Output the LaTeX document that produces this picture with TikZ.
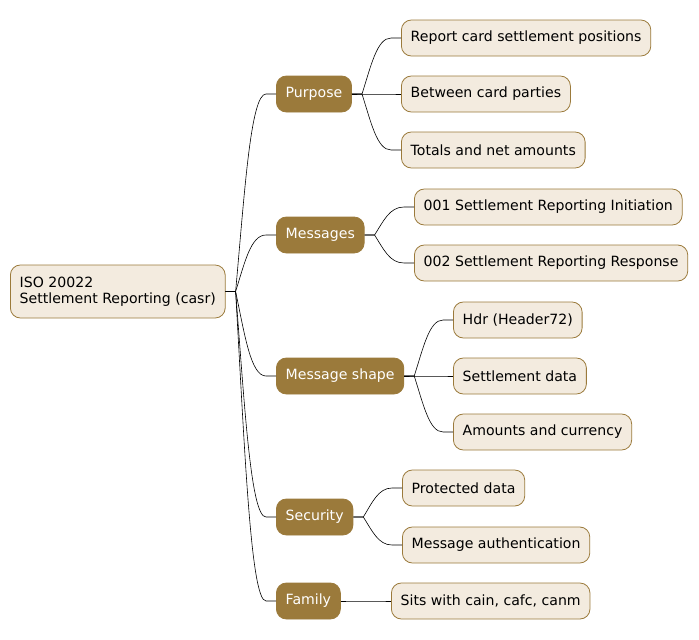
\documentclass[tikz,border=0pt]{standalone}
\usepackage{fontspec}
\setmainfont{DejaVu Sans}
\usetikzlibrary{calc}
\definecolor{mapdark}{HTML}{9B7A3B}
\definecolor{mapfill}{HTML}{F3EBDF}
\newcommand{\branch}[2]{\draw[link] let \p1=(#1.east), \p2=(#2.west) in (\p1) -- ++(10pt,0) .. controls (\x1+19pt,{0.5*\y1+0.5*\y2}) and (\x1+25pt,\y2) .. (\x2-10pt,\y2) -- (\p2);}
\begin{document}
\begin{tikzpicture}[x=1pt,y=-1pt,
  leaf/.style={draw=mapdark,fill=mapfill,rounded corners=10pt,line width=0.8pt,minimum height=36pt,inner xsep=9.3pt,anchor=west,font=\fontsize{14.1}{16.5}\selectfont,text=black},
  topic/.style={leaf,fill=mapdark,text=white},
  link/.style={black,line width=0.6pt}]
\useasboundingbox (0,0) rectangle (699,640);
\node[leaf,align=left,minimum height=53pt] (root) at (10,291.5) {ISO 20022\\Settlement Reporting (casr)};
\node[topic] (purp) at (276,94) {Purpose};
\node[topic] (msgs) at (276,235) {Messages};
\node[topic] (shape) at (276,376) {Message shape};
\node[topic] (sec) at (276,517) {Security};
\node[topic] (fam) at (276,601) {Family};
\node[leaf] (p1) at (401,38) {Report card settlement positions};
\node[leaf] (p2) at (401,94) {Between card parties};
\node[leaf] (p3) at (401,150) {Totals and net amounts};
\node[leaf] (m1) at (414,207) {001 Settlement Reporting Initiation};
\node[leaf] (m2) at (414,263) {002 Settlement Reporting Response};
\node[leaf] (s1) at (453,320) {Hdr (Header72)};
\node[leaf] (s2) at (453,376) {Settlement data};
\node[leaf] (s3) at (453,432) {Amounts and currency};
\node[leaf] (c1) at (402,488) {Protected data};
\node[leaf] (c2) at (402,545) {Message authentication};
\node[leaf] (f1) at (391,601) {Sits with cain, cafc, canm};
\foreach \t in {purp,msgs,shape,sec,fam} {\branch{root}{\t}}
\foreach \l in {p1,p2,p3} {\branch{purp}{\l}}
\foreach \l in {m1,m2} {\branch{msgs}{\l}}
\foreach \l in {s1,s2,s3} {\branch{shape}{\l}}
\foreach \l in {c1,c2} {\branch{sec}{\l}}
\branch{fam}{f1}
\end{tikzpicture}
\end{document}
